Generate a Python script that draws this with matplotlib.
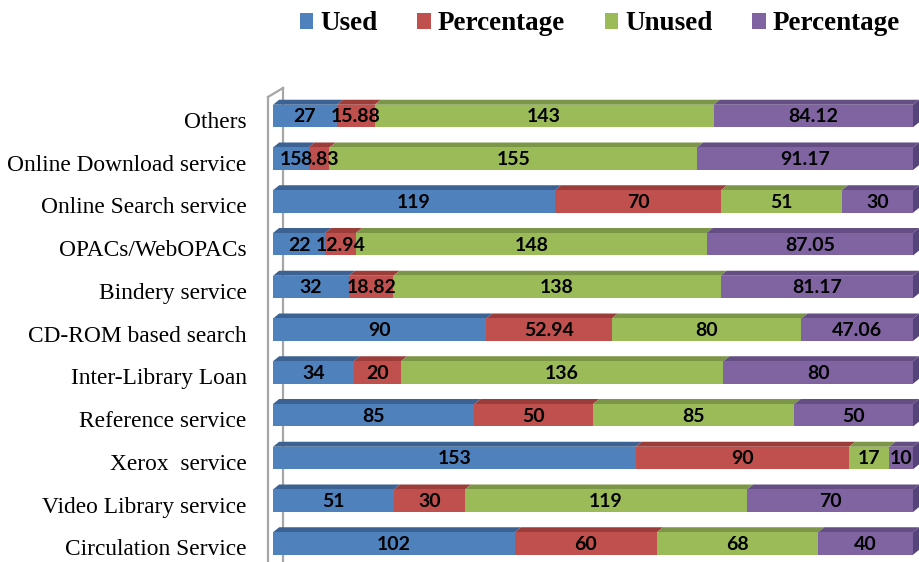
import matplotlib
matplotlib.use("Agg")
import matplotlib.pyplot as plt
from matplotlib.patches import Polygon, Patch
from matplotlib.lines import Line2D
from matplotlib.transforms import ScaledTranslation
import numpy as np

categories = ["Circulation Service", "Video Library service", "Xerox  service",
              "Reference service", "Inter-Library Loan", "CD-ROM based search",
              "Bindery service", "OPACs/WebOPACs", "Online Search service",
              "Online Download service", "Others"]
used = [102, 51, 153, 85, 34, 90, 32, 22, 119, 15, 27]
used_pct = [60, 30, 90, 50, 20, 52.94, 18.82, 12.94, 70, 8.83, 15.88]
unused = [68, 119, 17, 85, 136, 80, 138, 148, 51, 155, 143]
unused_pct = [40, 70, 10, 50, 80, 47.06, 81.17, 87.05, 30, 91.17, 84.12]
series_names = ["Used", "Percentage", "Unused", "Percentage"]

front = ["#4F81BD", "#C0504D", "#9BBB59", "#8064A2"]
top = ["#3B6293", "#9C3D3A", "#7B9646", "#644E83"]
side = "#56437A"

W, H = 920, 562
fig = plt.figure(figsize=(W / 100, H / 100), dpi=100)
ax = fig.add_axes([273 / W, 0, 640 / W, 472 / H])
ax.patch.set_alpha(0)

series = [used, used_pct, unused, unused_pct]
y = np.arange(len(categories))
h = 0.526
dx, dy = 2.6, 0.117
left = np.zeros(len(categories))
for k, vals in enumerate(series):
    vals = np.array(vals, dtype=float)
    ax.barh(y, vals, left=left, height=h, color=front[k], zorder=2)
    for i in range(len(y)):
        l, w = left[i], vals[i]
        yt = y[i] + h / 2
        poly = Polygon([(l, yt), (l + dx, yt + dy), (l + w + dx, yt + dy), (l + w, yt)],
                       closed=True, facecolor=top[k], edgecolor="none", zorder=1.9,
                       clip_on=False)
        ax.add_patch(poly)
    left = left + vals

# right side faces
for i in range(len(y)):
    R = left[i]
    poly = Polygon([(R, y[i] - h / 2), (R, y[i] + h / 2), (R + dx, y[i] + h / 2 + dy),
                    (R + dx, y[i] - h / 2 + dy)], closed=True, facecolor=side,
                   edgecolor="none", zorder=1.9, clip_on=False)
    ax.add_patch(poly)

# labels
left = np.zeros(len(categories))
for k, vals in enumerate(series):
    vals = np.array(vals, dtype=float)
    for i in range(len(y)):
        ax.text(left[i] + vals[i] / 2, y[i] - 0.02, f"{vals[i]:g}", ha="center", va="center",
                fontfamily="Lato", fontweight="bold", fontsize=14, color="black", zorder=5)
    left = left + vals

ax.set_xlim(0, 270)
ax.set_ylim(-0.433, 10.608)
ax.set_xticks([])
ax.set_yticks(y)
ax.set_yticklabels(categories, fontfamily="Liberation Serif", fontsize=16.8)
ax.tick_params(axis="y", length=0, pad=19)
shift = ScaledTranslation(0, -4 / 100, fig.dpi_scale_trans)
for lab in ax.get_yticklabels():
    lab.set_transform(lab.get_transform() + shift)
for s in ax.spines.values():
    s.set_visible(False)

# wall lines
def fx(px):
    return px / W

def fy(py):
    return 1 - py / H

wall = "#A6A6A6"
fig.add_artist(Line2D([fx(268), fx(268)], [fy(97), fy(562)], color=wall, lw=1.6, zorder=-1))
fig.add_artist(Line2D([fx(283), fx(283)], [fy(88), fy(562)], color=wall, lw=1.6, zorder=-1))
fig.add_artist(Line2D([fx(268), fx(283)], [fy(97), fy(88)], color=wall, lw=1.6, zorder=-1))

handles = [Patch(facecolor=front[k], edgecolor="none") for k in range(4)]
leg = fig.legend(handles, series_names, loc="center", bbox_to_anchor=(fx(600), fy(24)),
                 ncol=4, frameon=False, handlelength=0.5, handleheight=0.5,
                 handletextpad=0.27, columnspacing=1.45, borderpad=0,
                 prop={"family": "Liberation Serif", "weight": "bold", "size": 19.5})

fig.savefig("out.png", dpi=100)
